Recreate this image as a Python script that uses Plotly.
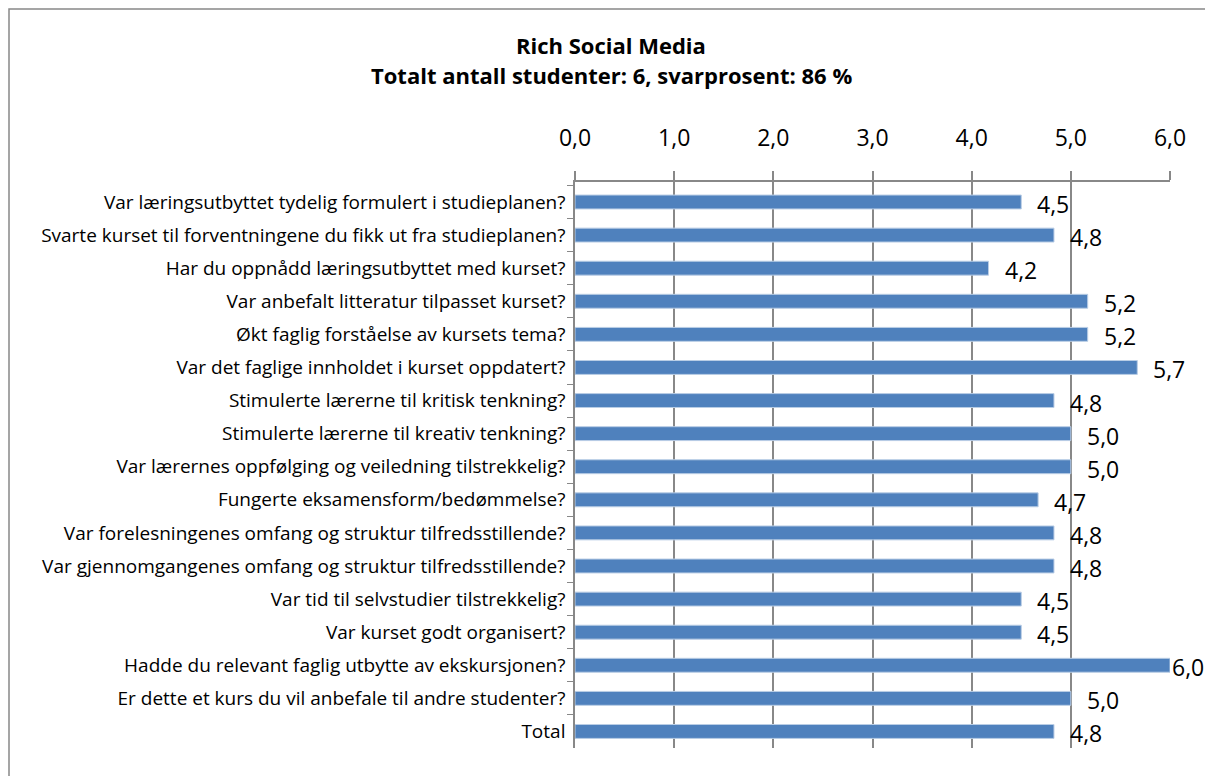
import plotly.graph_objects as go

categories = [
    "Var læringsutbyttet tydelig formulert i studieplanen?",
    "Svarte kurset til forventningene du fikk ut fra studieplanen?",
    "Har du oppnådd læringsutbyttet med kurset?",
    "Var anbefalt litteratur tilpasset kurset?",
    "Økt faglig forståelse av kursets tema?",
    "Var det faglige innholdet i kurset oppdatert?",
    "Stimulerte lærerne til kritisk tenkning?",
    "Stimulerte lærerne til kreativ tenkning?",
    "Var lærernes oppfølging og veiledning tilstrekkelig?",
    "Fungerte eksamensform/bedømmelse?",
    "Var forelesningenes omfang og struktur tilfredsstillende?",
    "Var gjennomgangenes omfang og struktur tilfredsstillende?",
    "Var tid til selvstudier tilstrekkelig?",
    "Var kurset godt organisert?",
    "Hadde du relevant faglig utbytte av ekskursjonen?",
    "Er dette et kurs du vil anbefale til andre studenter?",
    "Total",
]
values = [4.5, 4.83, 4.17, 5.17, 5.17, 5.67, 4.83, 5.0, 5.0, 4.67, 4.83, 4.83, 4.5, 4.5, 6.0, 5.0, 4.83]
tick_vals = [0, 1, 2, 3, 4, 5, 6]
title_lines = ["Rich Social Media", "Totalt antall studenter: 6, svarprosent: 86 %"]

FONT = "Open Sans"
labels = [f"{v:.1f}".replace(".", ",") for v in values]

# page has an 8px body margin, so the figure is laid out 8px up/left of the reference coords
OFF = 8
W, H = 1213 - OFF, 776 - OFF
PL, PR = 575 - OFF, 1170 - OFF
PT, PB = 182 - OFF, 748 - OFF
pw, ph = PR - PL, PB - PT

fig = go.Figure(go.Bar(
    y=categories, x=values, orientation="h",
    marker=dict(color="#4F81BD", line=dict(color="#B9CDE5", width=1)),
    width=0.42, hoverinfo="x+y",
))

for c, v, t in zip(categories, values, labels):
    fig.add_annotation(x=v, y=c, text=t, showarrow=False, xanchor="left",
                       xshift=0 if v >= 5.95 else 14, yshift=-2,
                       font=dict(family=FONT, size=23, color="#000"))

for i, line in enumerate(title_lines):
    fig.add_annotation(xref="paper", yref="paper",
                       x=(611 - 575) / pw,
                       y=1 + (182 - (45 + 30 * i)) / ph,
                       text=f"<b>{line}</b>", showarrow=False, xanchor="center", yanchor="middle",
                       font=dict(family=FONT, size=22, color="#000"))

fig.add_shape(type="rect", xref="paper", yref="paper",
              x0=(1 - PL) / pw, x1=(W + 20 - PL) / pw,
              y0=-(H + 20 - PB) / ph, y1=1 + (PT - 1) / ph,
              line=dict(color="#888888", width=1.5), fillcolor="rgba(0,0,0,0)")

fig.update_layout(
    width=W, height=H,
    margin=dict(l=PL, r=W - PR, t=PT, b=H - PB),
    paper_bgcolor="white", plot_bgcolor="white",
    separators=", ",
    showlegend=False,
    xaxis=dict(side="top", range=[0, 6], tickvals=tick_vals, tickformat=".1f",
               showgrid=True, gridcolor="#888888", gridwidth=1.5,
               showline=True, linecolor="#888888", linewidth=2,
               ticks="outside", ticklen=9, tickcolor="#888888", tickwidth=1.5,
               ticklabelstandoff=16,
               tickfont=dict(family=FONT, size=23, color="#000"),
               zeroline=False, fixedrange=True),
    yaxis=dict(autorange="reversed", categoryorder="array", categoryarray=categories,
               showline=True, linecolor="#888888", linewidth=1.5,
               ticks="outside", ticklen=6, tickcolor="#888888", tickson="boundaries",
               ticklabelstandoff=4,
               tickfont=dict(family=FONT, size=19, color="#000"),
               showgrid=False, fixedrange=True),
)

fig.write_html("out.html")
